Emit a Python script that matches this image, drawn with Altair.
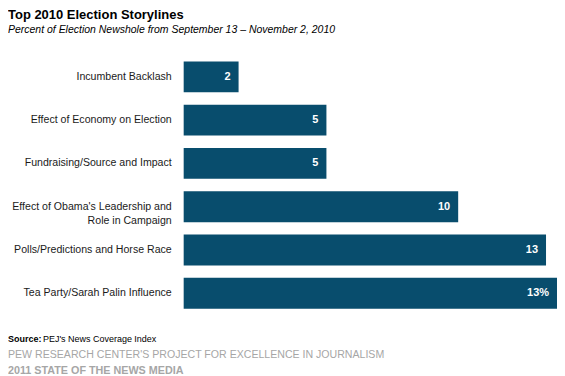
import altair as alt
import pandas as pd

categories = [
    "Incumbent Backlash",
    "Effect of Economy on Election",
    "Fundraising/Source and Impact",
    "Effect of Obama's Leadership and\nRole in Campaign",
    "Polls/Predictions and Horse Race",
    "Tea Party/Sarah Palin Influence",
]
values = [2.0, 5.2, 5.2, 10.0, 13.2, 13.6]
value_labels = ["2", "5", "5", "10", "13", "13%"]

df = pd.DataFrame({"cat": categories, "val": values, "lbl": value_labels})

FONT = "Liberation Sans, Arial, sans-serif"
BAR = "#084d6d"

y_enc = alt.Y("cat:N", sort=None, axis=None,
              scale=alt.Scale(paddingInner=0.284, paddingOuter=0.142))
x_enc = alt.X("val:Q", axis=None, scale=alt.Scale(domain=[0, 13.6], nice=False, zero=True))

base = alt.Chart(df)

bars = base.mark_bar(color=BAR).encode(x=x_enc, y=y_enc)

vals = base.mark_text(align="right", baseline="middle", dx=-8, color="white",
                      fontWeight="bold", font=FONT, fontSize=11).encode(
    x=x_enc, y=y_enc, text="lbl:N")

cats = base.mark_text(align="right", baseline="middle", color="#1a1a1a",
                      font=FONT, fontSize=10.6, lineBreak="\n", lineHeight=14).encode(
    x=alt.value(-12), y=y_enc, text="cat:N")

def note(txt, x, y, size, color="black", weight="normal", style="normal"):
    return alt.Chart(pd.DataFrame({"t": [txt]})).mark_text(
        align="left", baseline="alphabetic", font=FONT, fontSize=size,
        color=color, fontWeight=weight, fontStyle=style).encode(
        x=alt.value(x), y=alt.value(y), text="t:N")

L = -176
title = note("Top 2010 Election Storylines", L, -36, 13, weight="bold")
subtitle = note("Percent of Election Newshole from September 13 \u2013 November 2, 2010",
                L, -22, 10.5, style="italic")
src1 = note("Source:", L, 287, 9, weight="bold")
src2 = note("PEJ's News Coverage Index", L + 35, 287, 9)
pew1 = note("PEW RESEARCH CENTER'S PROJECT FOR EXCELLENCE IN JOURNALISM", L, 303, 10.6,
            color="#a6a6a6")
pew2 = note("2011 STATE OF THE NEWS MEDIA", L, 319, 10.8, color="#a6a6a6", weight="bold")

chart = alt.layer(bars, vals, cats, title, subtitle, src1, src2, pew1, pew2).properties(
    width=374, height=260,
    autosize=alt.AutoSizeParams(type="none"),
    padding={"left": 176, "top": 47, "right": 0, "bottom": 62},
).configure_view(stroke=None)

chart.save("out.html", embed_options={"renderer": "svg", "actions": False})
